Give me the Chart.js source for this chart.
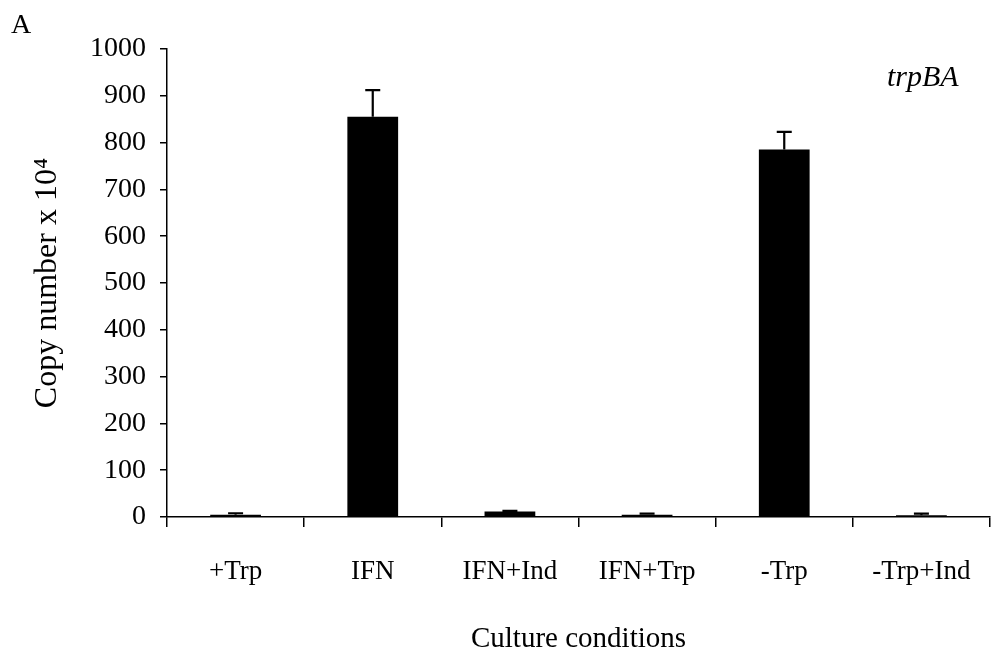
<!DOCTYPE html>
<html>
<head>
<meta charset="utf-8">
<script src="https://cdn.jsdelivr.net/npm/chart.js@4.4.1/dist/chart.umd.min.js"></script>
<style>
  html, body { margin: 0; padding: 0; background: #ffffff; }
  #wrap { width: 992px; height: 660px; }
</style>
</head>
<body>
<div id="wrap"><canvas id="chart" width="992" height="660"></canvas></div>
<script>
// Culture conditions on the x axis
const conditions = ['+Trp', 'IFN', 'IFN+Ind', 'IFN+Trp', '-Trp', '-Trp+Ind'];
// trpBA copy number (x 10^4) per condition
const copyNumber = [5, 855, 12, 5, 785, 4];
// upper error (standard deviation) per condition
const copyError = [3, 57, 1, 2, 38, 3];
// y-axis ticks
const yTicks = [0, 100, 200, 300, 400, 500, 600, 700, 800, 900, 1000];

const serif = '"Liberation Serif", "Times New Roman", serif';

// Upper error bars with a cap, placed through the chart's scales
const errorBars = {
  id: 'errorBars',
  afterDatasetsDraw(chart) {
    const ctx = chart.ctx;
    const meta = chart.getDatasetMeta(0);
    const yScale = chart.scales.y;
    ctx.save();
    ctx.strokeStyle = '#000';
    ctx.lineWidth = 2.2;
    meta.data.forEach((bar, i) => {
      const err = copyError[i];
      if (!err) return;
      const yTop = yScale.getPixelForValue(copyNumber[i] + err);
      const yVal = yScale.getPixelForValue(copyNumber[i]);
      ctx.beginPath();
      ctx.moveTo(bar.x, yVal);
      ctx.lineTo(bar.x, yTop);
      ctx.moveTo(bar.x - 7.5, yTop);
      ctx.lineTo(bar.x + 7.5, yTop);
      ctx.stroke();
    });
    ctx.restore();
  }
};

// Panel letter and gene name
const annotations = {
  id: 'annotations',
  afterDraw(chart) {
    const ctx = chart.ctx;
    ctx.save();
    ctx.fillStyle = '#000';
    ctx.textBaseline = 'alphabetic';
    ctx.textAlign = 'left';
    ctx.font = '28px ' + serif;
    ctx.fillText('A', 11, 33);
    ctx.font = 'italic 30px ' + serif;
    ctx.fillText('trpBA', 887, 86);
    ctx.restore();
  }
};

new Chart(document.getElementById('chart'), {
  type: 'bar',
  data: {
    labels: conditions,
    datasets: [{
      data: copyNumber,
      backgroundColor: '#000',
      borderWidth: 0,
      barPercentage: 0.37,
      categoryPercentage: 1.0
    }]
  },
  options: {
    responsive: false,
    animation: false,
    devicePixelRatio: 1,
    layout: { padding: { top: 49, right: 2, left: 0, bottom: 0 } },
    plugins: {
      legend: { display: false },
      tooltip: { enabled: false }
    },
    scales: {
      x: {
        offset: true,
        afterFit(scale) {
          scale.height = 143;
          scale.paddingLeft = 0;
          scale.paddingRight = 0;
        },
        border: { display: true, color: '#000', width: 1.5 },
        grid: {
          display: true,
          offset: true,
          drawOnChartArea: false,
          drawTicks: true,
          tickLength: 10,
          color: '#000',
          lineWidth: 1.5
        },
        ticks: {
          color: '#000',
          font: { family: serif, size: 27 },
          padding: 29,
          maxRotation: 0,
          autoSkip: false
        },
        title: {
          display: true,
          text: 'Culture conditions',
          color: '#000',
          font: { family: serif, size: 29 },
          padding: { top: 0, bottom: 3 }
        }
      },
      y: {
        min: 0,
        max: 1000,
        afterFit(scale) { scale.width = 167; },
        afterBuildTicks(scale) { scale.ticks = yTicks.map(v => ({ value: v })); },
        border: { display: true, color: '#000', width: 1.5 },
        grid: {
          display: true,
          drawOnChartArea: false,
          drawTicks: true,
          tickLength: 7,
          color: '#000',
          lineWidth: 1.5
        },
        ticks: {
          color: '#000',
          font: { family: serif, size: 28 },
          padding: 14,
          callback: (v) => String(v)
        },
        title: {
          display: true,
          text: 'Copy number x 10\u2074',
          color: '#000',
          font: { family: serif, size: 32 },
          padding: { top: 28, bottom: 0 }
        }
      }
    }
  },
  plugins: [errorBars, annotations]
});
</script>
</body>
</html>
